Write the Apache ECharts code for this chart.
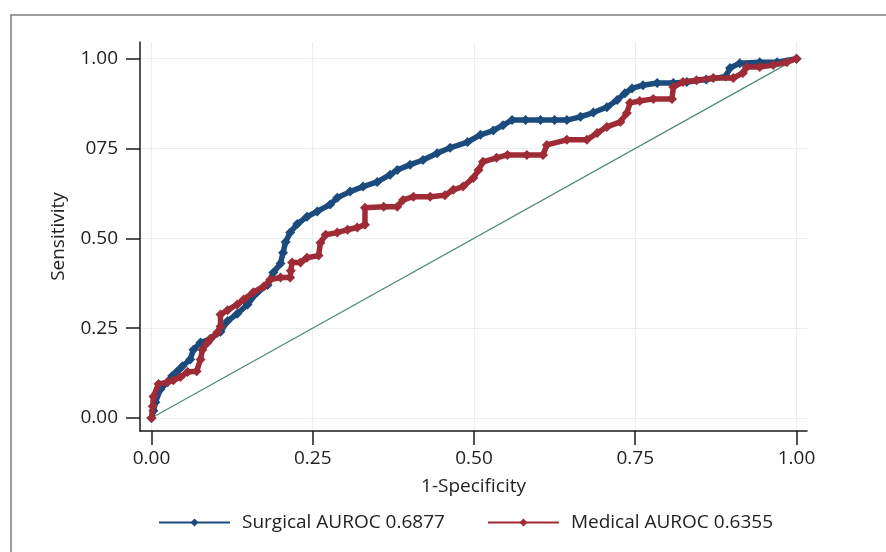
<!DOCTYPE html>
<html>
<head>
<meta charset="utf-8">
<script src="https://cdn.jsdelivr.net/npm/echarts@6/dist/echarts.min.js"></script>
<style>
html,body{margin:0;padding:0;background:#fff;}
#chart{width:886px;height:552px;}
</style>
</head>
<body>
<div id="chart"></div>
<script>
// ---- data ----
const tickValues = [0, 0.25, 0.5, 0.75, 1];
const xTickLabels = ["0.00", "0.25", "0.50", "0.75", "1.00"];
const yTickLabels = ["0.00", "0.25", "0.50", "075", "1.00"];

const surgicalFpr = [0.000,0.003,0.006,0.014,0.025,0.032,0.040,0.048,0.060,0.065,0.076,0.091,0.107,0.118,0.133,0.149,0.164,0.180,0.189,0.200,0.204,0.208,0.215,0.226,0.241,0.257,0.277,0.288,0.308,0.328,0.350,0.370,0.381,0.401,0.421,0.443,0.463,0.490,0.510,0.530,0.545,0.559,0.580,0.603,0.625,0.644,0.665,0.685,0.706,0.722,0.734,0.745,0.762,0.784,0.809,0.830,0.860,0.890,0.897,0.912,0.943,0.970,1.000];
const surgicalTpr = [0.000,0.020,0.044,0.080,0.100,0.117,0.130,0.144,0.163,0.190,0.210,0.220,0.240,0.270,0.290,0.316,0.350,0.370,0.405,0.430,0.460,0.490,0.516,0.540,0.560,0.575,0.594,0.613,0.630,0.644,0.657,0.677,0.690,0.705,0.718,0.737,0.752,0.768,0.788,0.800,0.815,0.829,0.829,0.829,0.829,0.829,0.838,0.850,0.865,0.885,0.904,0.917,0.926,0.932,0.932,0.935,0.942,0.950,0.974,0.987,0.990,0.990,1.000];

const medicalFpr = [0.000,0.002,0.003,0.011,0.025,0.034,0.045,0.056,0.070,0.076,0.079,0.087,0.091,0.102,0.107,0.107,0.118,0.133,0.143,0.158,0.174,0.184,0.200,0.215,0.216,0.218,0.231,0.241,0.259,0.262,0.270,0.288,0.304,0.319,0.331,0.331,0.360,0.381,0.390,0.406,0.432,0.455,0.468,0.483,0.499,0.507,0.514,0.535,0.552,0.582,0.607,0.613,0.644,0.675,0.691,0.706,0.727,0.737,0.742,0.757,0.778,0.807,0.809,0.824,0.845,0.871,0.902,0.917,0.923,0.943,0.964,0.985,1.000];
const medicalTpr = [0.000,0.033,0.060,0.095,0.100,0.105,0.114,0.128,0.130,0.163,0.190,0.210,0.220,0.238,0.255,0.288,0.300,0.316,0.330,0.350,0.366,0.385,0.391,0.391,0.410,0.433,0.433,0.446,0.452,0.488,0.510,0.516,0.524,0.530,0.538,0.585,0.588,0.588,0.607,0.616,0.616,0.620,0.635,0.644,0.668,0.690,0.713,0.724,0.732,0.732,0.732,0.760,0.774,0.774,0.793,0.810,0.824,0.849,0.877,0.882,0.888,0.888,0.921,0.935,0.940,0.946,0.946,0.960,0.977,0.977,0.982,0.990,1.000];

const diagX = [0, 1];
const diagY = [0, 1];

const seriesNames = ["Surgical AUROC 0.6877", "Medical AUROC 0.6355"];

// ---- build ----
const zip = (a, b) => a.map((v, i) => [v, b[i]]);
const FONT = '"Open Sans", "Noto Sans", sans-serif';
const FS = 19;
const chart = echarts.init(document.getElementById('chart'), null, {renderer: 'canvas'});

const gridMarks = tickValues.map(v => ({xAxis: v})).concat(tickValues.map(v => ({yAxis: v})));

const option = {
  animation: false,
  backgroundColor: '#ffffff',
  graphic: [{
    type: 'rect', silent: true, z: -10,
    shape: {x: 11, y: 15, width: 900, height: 600},
    style: {fill: 'none', stroke: '#7d7d7d', lineWidth: 1.5}
  }],
  grid: {left: 140, right: 79, top: 42, bottom: 121, containLabel: false},
  xAxis: {
    type: 'value', min: -0.0178, max: 1.0163,
    name: '1-Specificity', nameLocation: 'middle', nameGap: 46,
    nameTextStyle: {fontFamily: FONT, fontSize: FS, color: '#222'},
    axisLine: {show: true, onZero: false, lineStyle: {color: '#1a1a1a', width: 1.5}},
    axisTick: {show: true, length: 14, customValues: tickValues, lineStyle: {color: '#1a1a1a', width: 1.5}},
    axisLabel: {customValues: tickValues, margin: 18, fontFamily: FONT, fontSize: FS, color: '#222',
      formatter: v => xTickLabels[tickValues.indexOf(+v.toFixed(2))] ?? ''},
    splitLine: {show: false}
  },
  yAxis: {
    type: 'value', min: -0.0361, max: 1.0463,
    name: 'Sensitivity', nameLocation: 'middle', nameGap: 72,
    nameTextStyle: {fontFamily: FONT, fontSize: FS, color: '#222'},
    axisLine: {show: true, onZero: false, lineStyle: {color: '#1a1a1a', width: 1.5}},
    axisTick: {show: true, length: 14, customValues: tickValues, lineStyle: {color: '#1a1a1a', width: 1.5}},
    axisLabel: {customValues: tickValues, margin: 22, fontFamily: FONT, fontSize: FS, color: '#222',
      formatter: v => yTickLabels[tickValues.indexOf(+v.toFixed(2))] ?? ''},
    splitLine: {show: false}
  },
  legend: {
    data: seriesNames,
    left: 153, top: 508,
    itemWidth: 71, itemHeight: 10, itemGap: 42,
    textStyle: {fontFamily: FONT, fontSize: FS, color: '#222', padding: [0, 0, 0, 7]},
    lineStyle: {width: 2}
  },
  series: [
    {
      type: 'line', name: 'ref', data: zip(diagX, diagY),
      symbol: 'none', silent: true, z: 1,
      lineStyle: {color: '#4f8b78', width: 1.2},
      markLine: {
        silent: true, symbol: 'none', label: {show: false},
        lineStyle: {color: '#e9efef', width: 1.2, type: 'solid'},
        data: gridMarks, z: 0
      }
    },
    {
      type: 'line', name: seriesNames[0], data: zip(surgicalFpr, surgicalTpr),
      symbol: 'diamond', symbolSize: 10, showSymbol: true, z: 3,
      color: '#1b4b7d',
      itemStyle: {color: '#1b4b7d'},
      lineStyle: {color: '#1b4b7d', width: 5.5}
    },
    {
      type: 'line', name: seriesNames[1], data: zip(medicalFpr, medicalTpr),
      symbol: 'diamond', symbolSize: 10, showSymbol: true, z: 4,
      color: '#9e2b36',
      itemStyle: {color: '#9e2b36'},
      lineStyle: {color: '#9e2b36', width: 5.5}
    }
  ]
};
chart.setOption(option);
</script>
</body>
</html>
